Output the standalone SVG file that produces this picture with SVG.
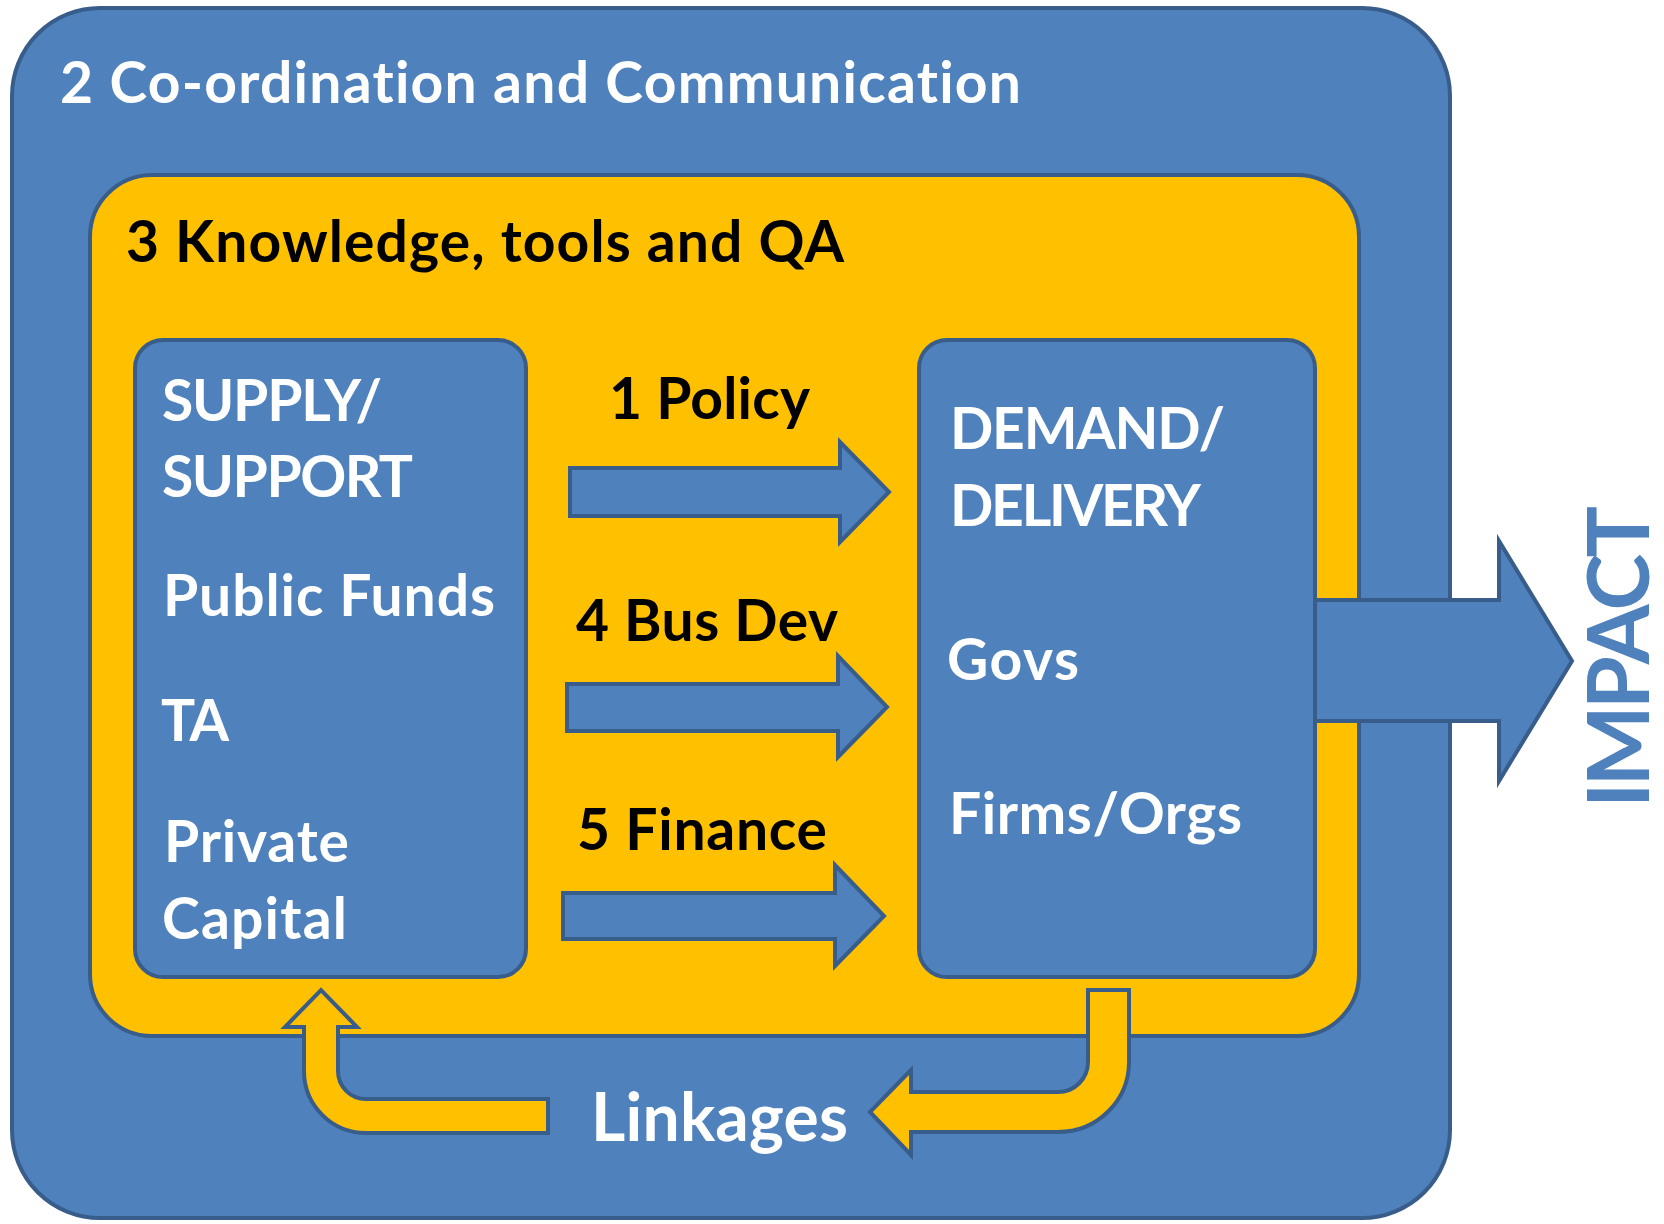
<svg xmlns="http://www.w3.org/2000/svg" width="1664" height="1224" viewBox="0 0 1664 1224">
<style>
.box{fill:#4F81BD;stroke:#385D8A;stroke-width:4}
.ybox{fill:#FFC000;stroke:#385D8A;stroke-width:4}
.barrow{fill:#4F81BD;stroke:#385D8A;stroke-width:4;stroke-linejoin:miter}
.yarrow{fill:#FFC000;stroke:#385D8A;stroke-width:4;stroke-linejoin:miter}
text{font-family:Lato,"Open Sans","Liberation Sans",sans-serif;font-weight:bold;font-variant-ligatures:none;font-feature-settings:"liga" 0,"clig" 0}
.w{fill:#FFFFFF;font-size:57px}
.k{fill:#000000;font-size:57px}
</style>
<rect width="1664" height="1224" fill="#FFFFFF"/>
<g id="coordination">
<rect class="box" x="12" y="8" width="1438" height="1210" rx="88" ry="88"/>
<text class="w" x="60" y="103" textLength="961">2 Co-ordination and Communication</text>
</g>
<g id="knowledge">
<rect class="ybox" x="90" y="175" width="1269" height="861" rx="62" ry="62"/>
<text class="k" x="126" y="262" textLength="718">3 Knowledge, tools and QA</text>
</g>
<g id="connectors-impact">
<polygon class="barrow" points="1300,600 1499,600 1499,541 1572,661 1499,781 1499,721 1300,721"/>
</g>
<g id="supply">
<rect class="box" x="135" y="340" width="391" height="637" rx="28" ry="28"/>
<text class="w" x="162" y="421" textLength="220">SUPPLY/</text>
<text class="w" x="162" y="497" textLength="251">SUPPORT</text>
<text class="w" x="163" y="616" textLength="332">Public Funds</text>
<text class="w" x="161" y="741" textLength="68">TA</text>
<text class="w" x="164" y="862" textLength="185">Private</text>
<text class="w" x="162" y="939" textLength="185">Capital</text>
</g>
<g id="demand">
<rect class="box" x="919" y="340" width="396" height="637" rx="28" ry="28"/>
<text class="w" x="950" y="449" textLength="275">DEMAND/</text>
<text class="w" x="950" y="526" textLength="251">DELIVERY</text>
<text class="w" x="947" y="680" textLength="132">Govs</text>
<text class="w" x="949" y="834" textLength="293">Firms/Orgs</text>
</g>
<g id="connectors">
<polygon class="barrow" points="570,468 840,468 840,442 889,492 840,542 840,516 570,516"/>
<polygon class="barrow" points="567,684 838,684 838,656 887,707 838,757 838,731 567,731"/>
<polygon class="barrow" points="563,893 835,893 835,865 884,916 835,966 835,939 563,939"/>
<path class="yarrow" d="M338,1027 L357,1027 L321,990 L285,1027 L304,1027 L304,1071 A62,62 0 0 0 366,1133 L548,1133 L548,1099 L366,1099 A28,28 0 0 1 338,1071 Z"/>
<path class="yarrow" d="M1088,990 L1129,990 L1129,1062 A71,70 0 0 1 1058,1132 L911,1132 L911,1155 L870,1112 L911,1070 L911,1092 L1058,1092 A30,30 0 0 0 1088,1062 Z"/>
</g>
<g id="labels">
<text class="k" x="609" y="419" textLength="201">1 Policy</text>
<text class="k" x="576" y="641" textLength="262">4 Bus Dev</text>
<text class="k" x="577" y="850" textLength="250">5 Finance</text>
<text class="w" x="591" y="1141" textLength="257" style="font-size:66px">Linkages</text>
<text x="0" y="0" transform="translate(1649,808) rotate(-90)" textLength="302" style="font-size:86px;fill:#4F81BD">IMPACT</text>
</g>
</svg>
